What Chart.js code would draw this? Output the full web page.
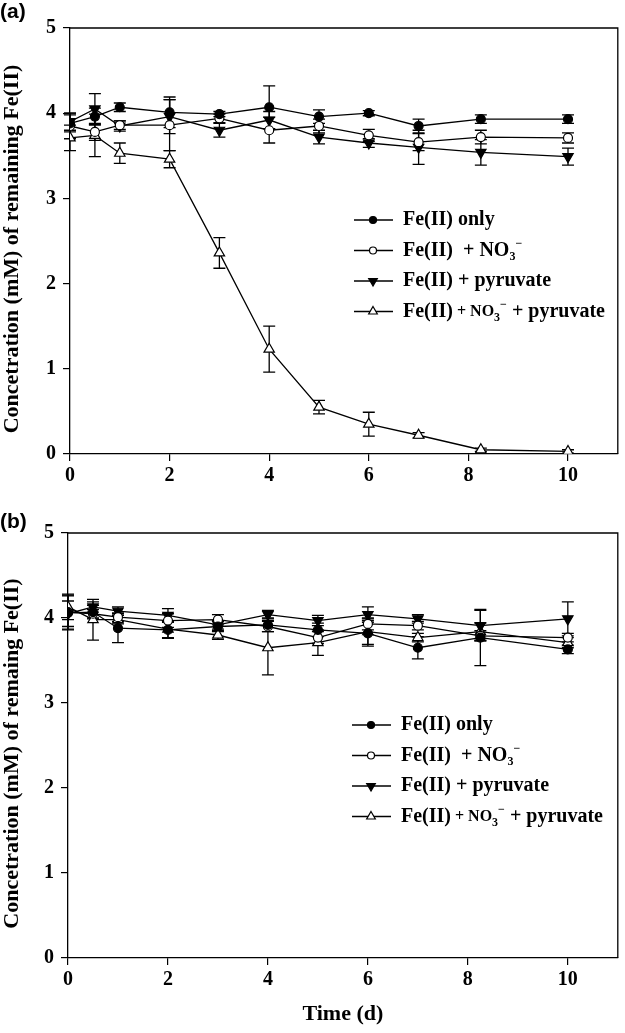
<!DOCTYPE html>
<html>
<head>
<meta charset="utf-8">
<script src="https://cdn.jsdelivr.net/npm/chart.js@4.4.0/dist/chart.umd.min.js"></script>
<style>
  body { margin: 0; background: #fff; }
  #wrap { position: relative; width: 625px; height: 1033px; }
  canvas { position: absolute; left: 0; }
  .panel { position: absolute; left: 0; font: bold 21px "Liberation Sans", Arial, sans-serif; color: #000; }
</style>
</head>
<body>
<div id="wrap">
  <canvas id="chartA" width="625" height="500" style="top:0"></canvas>
  <canvas id="chartB" width="625" height="533" style="top:500px"></canvas>
  <div class="panel" style="top:-1px">(a)</div>
  <div class="panel" style="top:509px">(b)</div>
</div>
<script>
// sampling times (d)
var days = [0, 0.5, 1, 2, 3, 4, 5, 6, 7, 8.25, 10];
var xTicks = [0, 2, 4, 6, 8, 10];
var yTicks = [0, 1, 2, 3, 4, 5];

// panel (a)
var feOnlyA      = [3.88, 3.96, 4.07, 4.01, 3.99, 4.07, 3.96, 4.00, 3.85, 3.93, 3.93];
var feOnlyErrA   = [0.10, 0.10, 0.05, 0.18, 0.03, 0.25, 0.08, 0.03, 0.08, 0.05, 0.05];
var feNo3A       = [3.85, 3.78, 3.86, 3.86, 3.94, 3.80, 3.85, 3.74, 3.66, 3.72, 3.71];
var feNo3ErrA    = [0.15, 0.10, 0.05, 0.30, 0.05, 0.15, 0.08, 0.07, 0.10, 0.08, 0.06];
var fePyrA       = [3.90, 4.05, 3.85, 3.96, 3.80, 3.92, 3.72, 3.65, 3.60, 3.54, 3.49];
var fePyrErrA    = [0.10, 0.18, 0.06, 0.20, 0.08, 0.10, 0.08, 0.05, 0.20, 0.15, 0.10];
var feNo3PyrA    = [3.71, 3.74, 3.53, 3.46, 2.36, 1.23, 0.55, 0.35, 0.22, 0.05, 0.03];
var feNo3PyrErrA = [0.15, 0.25, 0.12, 0.10, 0.18, 0.27, 0.08, 0.14, 0.03, 0.02, 0.02];

// panel (b)
var feOnlyB      = [4.06, 4.07, 3.88, 3.86, 3.90, 3.92, 3.86, 3.82, 3.65, 3.77, 3.63];
var feOnlyErrB   = [0.20, 0.08, 0.17, 0.10, 0.06, 0.08, 0.08, 0.15, 0.13, 0.33, 0.05];
var feNo3B       = [4.07, 4.05, 4.01, 3.97, 3.98, 3.90, 3.77, 3.93, 3.91, 3.79, 3.77];
var feNo3ErrB    = [0.20, 0.05, 0.05, 0.08, 0.06, 0.06, 0.07, 0.07, 0.05, 0.06, 0.05];
var fePyrB       = [4.05, 4.13, 4.08, 4.03, 3.92, 4.04, 3.97, 4.04, 3.99, 3.91, 3.99];
var fePyrErrB    = [0.15, 0.06, 0.05, 0.08, 0.05, 0.05, 0.06, 0.09, 0.05, 0.18, 0.20];
var feNo3PyrB    = [4.13, 3.98, 3.98, 3.87, 3.80, 3.65, 3.71, 3.84, 3.77, 3.84, 3.71];
var feNo3PyrErrB = [0.15, 0.24, 0.05, 0.10, 0.05, 0.32, 0.15, 0.15, 0.05, 0.10, 0.06];

var serif = '"Liberation Serif", "Times New Roman", serif';

// marker look for the 4 series: filled circle, open circle, filled down triangle, open triangle
var markers = [
  { style: 'circle',   fill: '#000', rot: 0,   r: 4.5 },
  { style: 'circle',   fill: '#fff', rot: 0,   r: 4.5 },
  { style: 'triangle', fill: '#000', rot: 180, r: 6 },
  { style: 'triangle', fill: '#fff', rot: 0,   r: 6 }
];

function makeSet(vals, errs, m) {
  return {
    data: days.map(function (d, i) { return { x: d, y: vals[i] }; }),
    errors: errs,
    borderColor: '#000',
    borderWidth: 1.3,
    tension: 0,
    pointStyle: m.style,
    pointRotation: m.rot,
    pointRadius: m.r,
    pointBackgroundColor: m.fill,
    pointBorderColor: '#000',
    pointBorderWidth: 1.2
  };
}

// error bars with caps, drawn under the markers
var errorBars = {
  id: 'errorBars',
  beforeDatasetsDraw: function (chart) {
    var ctx = chart.ctx, xs = chart.scales.x, ys = chart.scales.y;
    ctx.save();
    ctx.strokeStyle = '#000';
    ctx.lineWidth = 1.3;
    chart.data.datasets.forEach(function (ds) {
      ds.data.forEach(function (p, i) {
        var e = ds.errors[i];
        var x = xs.getPixelForValue(p.x);
        var t = ys.getPixelForValue(p.y + e), b = ys.getPixelForValue(p.y - e);
        ctx.beginPath();
        ctx.moveTo(x, t); ctx.lineTo(x, b);
        ctx.moveTo(x - 6, t); ctx.lineTo(x + 6, t);
        ctx.moveTo(x - 6, b); ctx.lineTo(x + 6, b);
        ctx.stroke();
      });
    });
    ctx.restore();
  }
};

// closes the box on top and right, and writes the y title a bit below centre
var frame = {
  id: 'frame',
  afterDraw: function (chart) {
    var a = chart.chartArea, ctx = chart.ctx;
    ctx.save();
    ctx.strokeStyle = '#000';
    ctx.lineWidth = 1.3;
    ctx.beginPath();
    ctx.moveTo(a.left, a.top); ctx.lineTo(a.right, a.top); ctx.lineTo(a.right, a.bottom);
    ctx.stroke();
    ctx.translate(12, (a.top + a.bottom) / 2 + 8);
    ctx.rotate(-Math.PI / 2);
    ctx.font = 'bold 22px ' + serif;
    ctx.fillStyle = '#000';
    ctx.textAlign = 'center';
    ctx.textBaseline = 'middle';
    ctx.fillText(chart.options.yTitleText, 0, 0);
    ctx.restore();
  }
};

// legend text pieces (NO3- needs sub/superscript)
var big = 'bold 20px ' + serif;
var small = 'bold 16px ' + serif;
var tiny = 'bold 12px ' + serif;
var legendRows = [
  [{ t: 'Fe(II) only', f: big, dy: 0 }],
  [{ t: 'Fe(II)  + NO', f: big, dy: 0 }, { t: '3', f: tiny, dy: 6 }, { t: '\u2212', f: tiny, dy: -7 }],
  [{ t: 'Fe(II) + pyruvate', f: big, dy: 0 }],
  [{ t: 'Fe(II)', f: big, dy: 0 }, { t: ' + NO', f: small, dy: 0 }, { t: '3', f: tiny, dy: 6 },
   { t: '\u2212', f: tiny, dy: -7 }, { t: ' + pyruvate', f: big, dy: 0 }]
];

var richLegend = {
  id: 'richLegend',
  afterDraw: function (chart) {
    var a = chart.chartArea, ctx = chart.ctx;
    ctx.save();
    legendRows.forEach(function (row, i) {
      var y = a.top + 192 + 30.5 * i;
      var m = markers[i];
      ctx.strokeStyle = '#000';
      ctx.lineWidth = 1.3;
      ctx.beginPath();
      ctx.moveTo(a.left + 284, y); ctx.lineTo(a.left + 323, y);
      ctx.stroke();
      ctx.fillStyle = m.fill;
      ctx.lineWidth = 1.2;
      Chart.helpers.drawPoint(ctx, { pointStyle: m.style, rotation: m.rot, radius: m.r - 1, borderWidth: 1.2 },
        a.left + 303, y);
      ctx.fillStyle = '#000';
      ctx.textBaseline = 'middle';
      ctx.textAlign = 'left';
      var x = a.left + 333;
      row.forEach(function (p) {
        ctx.font = p.f;
        ctx.fillText(p.t, x, y + p.dy);
        x += ctx.measureText(p.t).width;
      });
    });
    ctx.restore();
  }
};

function makeChart(id, sets, opt) {
  return new Chart(document.getElementById(id), {
    type: 'line',
    data: { datasets: sets },
    plugins: [errorBars, frame, richLegend],
    options: {
      responsive: false,
      animation: false,
      devicePixelRatio: 1,
      yTitleText: opt.yTitle,
      layout: { padding: { top: opt.top, right: 4, left: 0, bottom: 0 } },
      plugins: { legend: { display: false }, tooltip: { enabled: false } },
      scales: {
        x: {
          type: 'linear', min: 0, max: 11,
          afterBuildTicks: function (s) { s.ticks = xTicks.map(function (v) { return { value: v }; }); },
          afterFit: function (s) { s.height = opt.xh; },
          grid: { drawOnChartArea: false, drawTicks: true, tickLength: 7, color: '#000', lineWidth: 1.2 },
          border: { display: true, color: '#000', width: 1.3 },
          ticks: { color: '#000', padding: 3, maxRotation: 0, font: { family: serif, size: 20, weight: 'bold' } },
          title: {
            display: opt.xTitle !== '', text: opt.xTitle, color: '#000',
            padding: { top: 0, bottom: 5 },
            font: { family: serif, size: 22, weight: 'bold' }
          }
        },
        y: {
          min: 0, max: 5,
          afterBuildTicks: function (s) { s.ticks = yTicks.map(function (v) { return { value: v }; }); },
          afterFit: function (s) { s.width = opt.yw; },
          grid: { drawOnChartArea: false, drawTicks: true, tickLength: 7, color: '#000', lineWidth: 1.2 },
          border: { display: true, color: '#000', width: 1.3 },
          ticks: { color: '#000', padding: 7, font: { family: serif, size: 20, weight: 'bold' } },
          title: { display: false }
        }
      }
    }
  });
}

makeChart('chartA', [
  makeSet(feOnlyA, feOnlyErrA, markers[0]),
  makeSet(feNo3A, feNo3ErrA, markers[1]),
  makeSet(fePyrA, fePyrErrA, markers[2]),
  makeSet(feNo3PyrA, feNo3PyrErrA, markers[3])
], { top: 28, xh: 46, yw: 70, xTitle: '', yTitle: 'Concetration (mM) of remaining Fe(II)' });

makeChart('chartB', [
  makeSet(feOnlyB, feOnlyErrB, markers[0]),
  makeSet(feNo3B, feNo3ErrB, markers[1]),
  makeSet(fePyrB, fePyrErrB, markers[2]),
  makeSet(feNo3PyrB, feNo3PyrErrB, markers[3])
], { top: 33, xh: 75, yw: 68, xTitle: 'Time (d)', yTitle: 'Concetration (mM) of remaing Fe(II)' });
</script>
</body>
</html>
